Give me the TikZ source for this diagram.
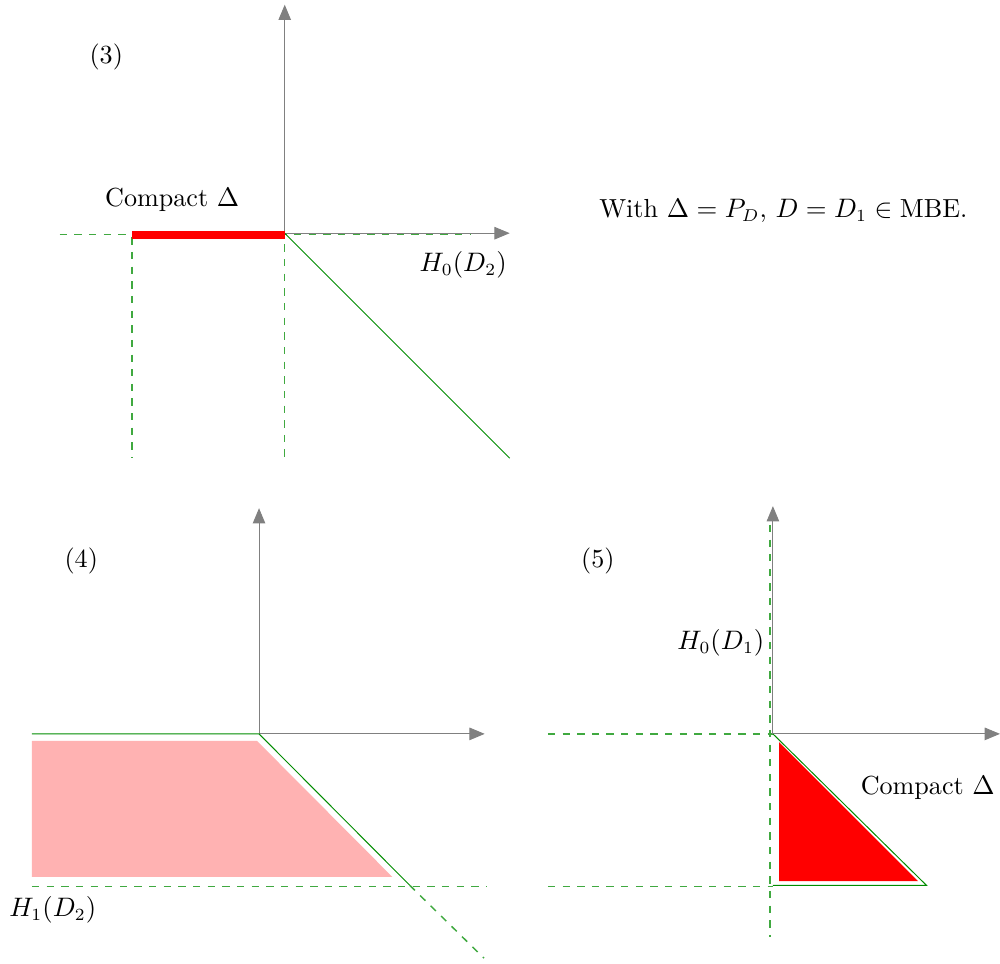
\documentclass[tikz,border=0pt]{standalone}
\usepackage{amsmath}
\usepackage{amssymb}
\usetikzlibrary{arrows.meta}

\begin{document}
\begin{tikzpicture}[>={Triangle[length=2.2mm, width=1.8mm]},
    every node/.style={font=\fontsize{10.7}{13}\selectfont},
    axis/.style={gray, ->},
    guide/.style={green!55!black!75, dashed, line width=0.6pt},
    bound/.style={green!55!black}]
        \path[use as bounding box] (0, 0) rectangle (14.4, 13.868);
        % (3)
        \coordinate (o3) at (4.10, 10.51);
        \draw[guide] (0.86, 10.49) -- (6.77, 10.49);
        \draw[guide] (4.10, 13.3) -- (4.10, 7.27);
        \draw[guide] (1.90, 10.45) -- (1.90, 7.27);
        \draw[axis] (o3) -- (4.10, 13.80);
        \draw[axis] (o3) -- (7.34, 10.51);
        \draw[bound] (o3) -- (7.34, 7.27);
        \fill[red] (1.90, 10.54) rectangle (4.10, 10.43);
        \node (lab3) at (1.53, 13.05) {(3)};
        \node (cpt3) at (2.48, 10.99) {Compact $\Delta$};
        \node (h0d2) at (6.67, 10.05) {$H_0(D_2)$};
        \node (with) at (11.28, 10.83) {With $\Delta = P_D$, $D = D_1 \in \text{MBE}$.};
        % (4)
        \coordinate (o4) at (3.73, 3.30);
        \fill[red!30] (0.46, 3.20) -- (3.70, 3.20) -- (5.65, 1.24) -- (0.46, 1.24) -- cycle;
        \draw[guide] (0.46, 1.105) -- (7.01, 1.105);
        \draw[guide] (5.90, 1.12) -- (6.97, 0.07);
        \draw[axis] (o4) -- (3.73, 6.55);
        \draw[axis] (o4) -- (6.98, 3.30);
        \draw[bound] (0.46, 3.30) -- (o4) -- (5.90, 1.12);
        \node (lab4) at (1.17, 5.79) {(4)};
        \node (h1d2) at (0.76, 0.76) {$H_1(D_2)$};
        % (5)
        \coordinate (o5) at (11.13, 3.30);
        \draw[guide] (11.09, 6.31) -- (11.09, 0.37);
        \draw[guide] (7.89, 3.30) -- (11.13, 3.30);
        \draw[guide] (7.89, 1.105) -- (11.13, 1.105);
        \draw[axis] (o5) -- (11.13, 6.58);
        \draw[axis] (o5) -- (14.40, 3.30);
        \fill[red] (11.22, 3.18) -- (13.22, 1.18) -- (11.22, 1.18) -- cycle;
        \draw[bound] (o5) -- (13.34, 1.12) -- (11.13, 1.12);
        \node (lab5) at (8.61, 5.79) {(5)};
        \node (h0d1) at (10.38, 4.61) {$H_0(D_1)$};
        \node (cpt5) at (13.36, 2.53) {Compact $\Delta$};
    \end{tikzpicture}
\end{document}
